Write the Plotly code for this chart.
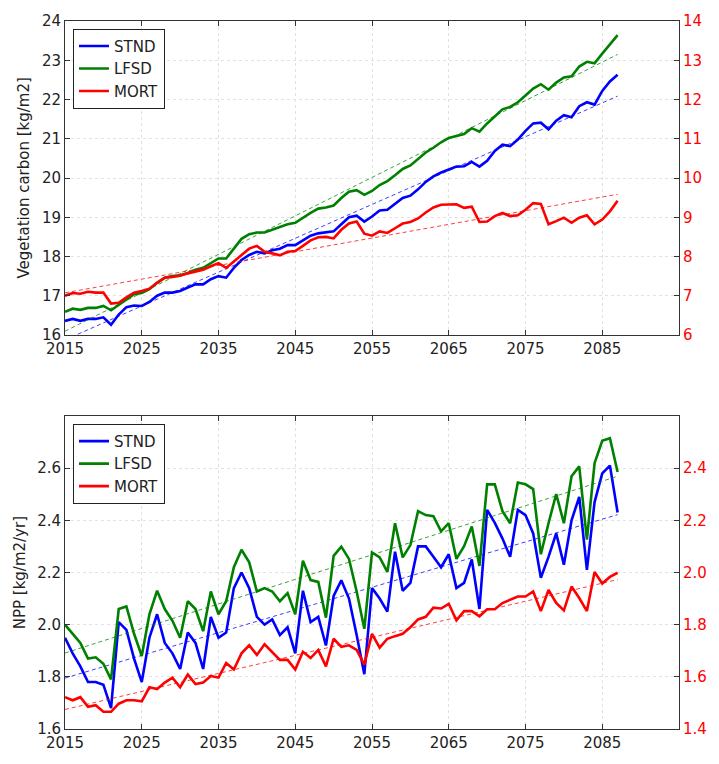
import numpy as np
import plotly.graph_objects as go

years = list(range(2015, 2088))

# ---- Top panel: vegetation carbon (STND, LFSD on left axis; MORT on right axis)
veg_stnd = [16.36, 16.41, 16.36, 16.41, 16.41, 16.45, 16.26, 16.52, 16.71, 16.75,
            16.74, 16.84, 17.00, 17.08, 17.08, 17.12, 17.21, 17.29, 17.29, 17.42,
            17.50, 17.46, 17.71, 17.91, 18.04, 18.12, 18.08, 18.16, 18.20, 18.29,
            18.29, 18.41, 18.53, 18.59, 18.62, 18.64, 18.82, 19.00, 19.04, 18.89,
            19.02, 19.17, 19.19, 19.35, 19.49, 19.55, 19.71, 19.90, 20.04, 20.14,
            20.21, 20.29, 20.30, 20.41, 20.29, 20.44, 20.69, 20.85, 20.81, 20.98,
            21.20, 21.39, 21.41, 21.24, 21.46, 21.60, 21.55, 21.83, 21.93, 21.87,
            22.22, 22.46, 22.63]
veg_lfsd = [16.59, 16.67, 16.64, 16.69, 16.69, 16.74, 16.63, 16.77, 16.92, 17.04,
            17.07, 17.17, 17.33, 17.46, 17.50, 17.52, 17.58, 17.66, 17.71, 17.82,
            17.95, 17.95, 18.20, 18.45, 18.57, 18.61, 18.61, 18.68, 18.74, 18.82,
            18.86, 18.99, 19.11, 19.22, 19.25, 19.30, 19.49, 19.65, 19.69, 19.57,
            19.67, 19.82, 19.92, 20.07, 20.23, 20.32, 20.48, 20.65, 20.77, 20.91,
            21.02, 21.08, 21.12, 21.27, 21.18, 21.39, 21.58, 21.75, 21.81, 21.93,
            22.10, 22.28, 22.39, 22.25, 22.43, 22.56, 22.59, 22.84, 22.96, 22.92,
            23.17, 23.42, 23.64]
veg_mort = [7.00, 7.07, 7.05, 7.10, 7.08, 7.08, 6.80, 6.82, 6.96, 7.08,
            7.12, 7.18, 7.33, 7.46, 7.48, 7.51, 7.57, 7.62, 7.66, 7.75,
            7.83, 7.71, 7.87, 8.04, 8.20, 8.27, 8.12, 8.08, 8.03, 8.12,
            8.14, 8.27, 8.41, 8.49, 8.50, 8.46, 8.68, 8.84, 8.89, 8.58,
            8.53, 8.64, 8.60, 8.72, 8.84, 8.88, 8.97, 9.12, 9.25, 9.32,
            9.32, 9.33, 9.24, 9.27, 8.88, 8.89, 9.03, 9.11, 9.03, 9.05,
            9.19, 9.36, 9.34, 8.82, 8.90, 8.99, 8.86, 8.99, 9.05, 8.82,
            8.94, 9.15, 9.42]

# ---- Bottom panel: NPP (STND, LFSD on left axis; MORT on right axis)
npp_stnd = [1.95, 1.89, 1.84, 1.78, 1.78, 1.77, 1.68, 2.01, 1.98, 1.87,
            1.78, 1.95, 2.04, 1.93, 1.89, 1.83, 1.97, 1.93, 1.83, 2.03,
            1.95, 1.97, 2.14, 2.20, 2.14, 2.03, 2.00, 2.02, 1.96, 1.99,
            1.89, 2.13, 2.01, 2.03, 1.92, 2.11, 2.17, 2.10, 1.96, 1.81,
            2.14, 2.10, 2.05, 2.28, 2.13, 2.16, 2.30, 2.30, 2.26, 2.22,
            2.27, 2.14, 2.16, 2.25, 2.06, 2.44, 2.39, 2.33, 2.26, 2.44,
            2.42, 2.35, 2.18, 2.26, 2.35, 2.23, 2.40, 2.49, 2.21, 2.47,
            2.58, 2.61, 2.43]
npp_lfsd = [2.00, 1.965, 1.93, 1.87, 1.875, 1.85, 1.79, 2.06, 2.07, 1.965,
            1.88, 2.04, 2.13, 2.06, 2.015, 1.95, 2.09, 2.06, 1.975, 2.127,
            2.04, 2.09, 2.22, 2.287, 2.239, 2.127, 2.14, 2.127, 2.09, 2.121,
            2.04, 2.245, 2.171, 2.164, 2.027, 2.264, 2.299, 2.252, 2.127, 1.984,
            2.277, 2.258, 2.202, 2.389, 2.258, 2.305, 2.435, 2.42, 2.416, 2.358,
            2.389, 2.252, 2.301, 2.376, 2.225, 2.538, 2.538, 2.435, 2.389, 2.545,
            2.538, 2.52, 2.27, 2.389, 2.501, 2.389, 2.569, 2.607, 2.326, 2.619,
            2.705, 2.715, 2.585]
npp_mort = [1.522, 1.510, 1.522, 1.485, 1.491, 1.466, 1.466, 1.497, 1.510, 1.510,
            1.506, 1.560, 1.553, 1.578, 1.597, 1.560, 1.609, 1.572, 1.578, 1.603,
            1.597, 1.653, 1.628, 1.690, 1.721, 1.684, 1.725, 1.696, 1.665, 1.665,
            1.628, 1.696, 1.672, 1.703, 1.640, 1.746, 1.715, 1.721, 1.703, 1.647,
            1.765, 1.712, 1.746, 1.756, 1.765, 1.790, 1.820, 1.830, 1.865, 1.862,
            1.880, 1.817, 1.852, 1.852, 1.832, 1.859, 1.859, 1.883, 1.896, 1.908,
            1.908, 1.927, 1.852, 1.933, 1.883, 1.855, 1.946, 1.902, 1.852, 2.002,
            1.958, 1.983, 1.999]

series_names = ["STND", "LFSD", "MORT"]
series_colors = ["#0000ff", "#008000", "#ff0000"]

x_ticks = [2015, 2025, 2035, 2045, 2055, 2065, 2075, 2085]
veg_left_ticks = [16, 17, 18, 19, 20, 21, 22, 23, 24]
veg_right_ticks = [6, 7, 8, 9, 10, 11, 12, 13, 14]
npp_left_ticks = [1.6, 1.8, 2.0, 2.2, 2.4, 2.6]
npp_right_ticks = [1.4, 1.6, 1.8, 2.0, 2.2, 2.4]

FONT = "DejaVu Sans"
fig = go.Figure()


def add_panel(values_list, xa, ya_left, ya_right, legend_id):
    for name, color, vals, ya in zip(series_names, series_colors, values_list,
                                     [ya_left, ya_left, ya_right]):
        fig.add_trace(go.Scatter(x=years, y=vals, mode="lines", name=name,
                                 line=dict(color=color, width=2.6),
                                 xaxis=xa, yaxis=ya, legend=legend_id))
        coef = np.polyfit(years, vals, 1)
        xs = [years[0], years[-1]]
        fig.add_trace(go.Scatter(x=xs, y=list(np.polyval(coef, xs)), mode="lines",
                                 line=dict(color=color, width=1, dash="4px,3px"),
                                 opacity=0.75, showlegend=False, hoverinfo="skip",
                                 xaxis=xa, yaxis=ya))


add_panel([veg_stnd, veg_lfsd, veg_mort], "x", "y", "y2", "legend")
add_panel([npp_stnd, npp_lfsd, npp_mort], "x2", "y3", "y4", "legend2")

axis_common = dict(showline=True, linecolor="#333333", linewidth=1,
                   ticks="inside", ticklen=5, tickcolor="#333333",
                   showgrid=True, gridcolor="#e2e2e2", griddash="dot", gridwidth=1,
                   zeroline=False, tickfont=dict(family=FONT, size=15, color="#222222"))

top_dom = [0.5565, 1.0]
bot_dom = [0.0, 0.4421]

fig.update_layout(
    width=719, height=764,
    margin=dict(l=65, r=31, t=15, b=23),
    paper_bgcolor="white", plot_bgcolor="white",
    font=dict(family=FONT, size=15, color="#222222"),
    xaxis=dict(domain=[0, 1], anchor="y", range=[2015, 2095], tickvals=x_ticks,
               mirror="ticks", **axis_common),
    yaxis=dict(domain=top_dom, anchor="x", range=[16, 24], tickvals=veg_left_ticks,
               mirror=True, **axis_common),
    yaxis2=dict(overlaying="y", side="right", anchor="x", range=[6, 14],
                tickvals=veg_right_ticks, showline=True, linecolor="#333333",
                ticks="inside", ticklen=5, tickcolor="#333333", showgrid=False,
                zeroline=False, tickfont=dict(family=FONT, size=15, color="#ff0000")),
    xaxis2=dict(domain=[0, 1], anchor="y3", range=[2015, 2095], tickvals=x_ticks,
                mirror="ticks", **axis_common),
    yaxis3=dict(domain=bot_dom, anchor="x2", range=[1.6, 2.8], tickvals=npp_left_ticks,
                tickformat=".1f", mirror=True, **axis_common),
    yaxis4=dict(overlaying="y3", side="right", anchor="x2", range=[1.4, 2.6],
                tickvals=npp_right_ticks, tickformat=".1f", showline=True,
                linecolor="#333333", ticks="inside", ticklen=5, tickcolor="#333333",
                showgrid=False, zeroline=False,
                tickfont=dict(family=FONT, size=15, color="#ff0000")),
    legend=dict(x=0.013, y=0.989, xanchor="left", yanchor="top",
                bordercolor="#222222", borderwidth=1, bgcolor="white",
                font=dict(family=FONT, size=15, color="#222222"),
                tracegroupgap=0, itemwidth=30),
    legend2=dict(x=0.013, y=0.431, xanchor="left", yanchor="top",
                 bordercolor="#222222", borderwidth=1, bgcolor="white",
                 font=dict(family=FONT, size=15, color="#222222"),
                 tracegroupgap=0, itemwidth=30),
    annotations=[
        dict(text="Vegetation carbon [kg/m2]", xref="paper", yref="paper",
             x=-0.066, y=(top_dom[0] + top_dom[1]) / 2, xanchor="center",
             yanchor="middle", textangle=-90, showarrow=False,
             font=dict(family=FONT, size=15, color="#222222")),
        dict(text="NPP [kg/m2/yr]", xref="paper", yref="paper",
             x=-0.072, y=(bot_dom[0] + bot_dom[1]) / 2, xanchor="center",
             yanchor="middle", textangle=-90, showarrow=False,
             font=dict(family=FONT, size=15, color="#222222")),
    ],
)

fig.write_html("out.html")
